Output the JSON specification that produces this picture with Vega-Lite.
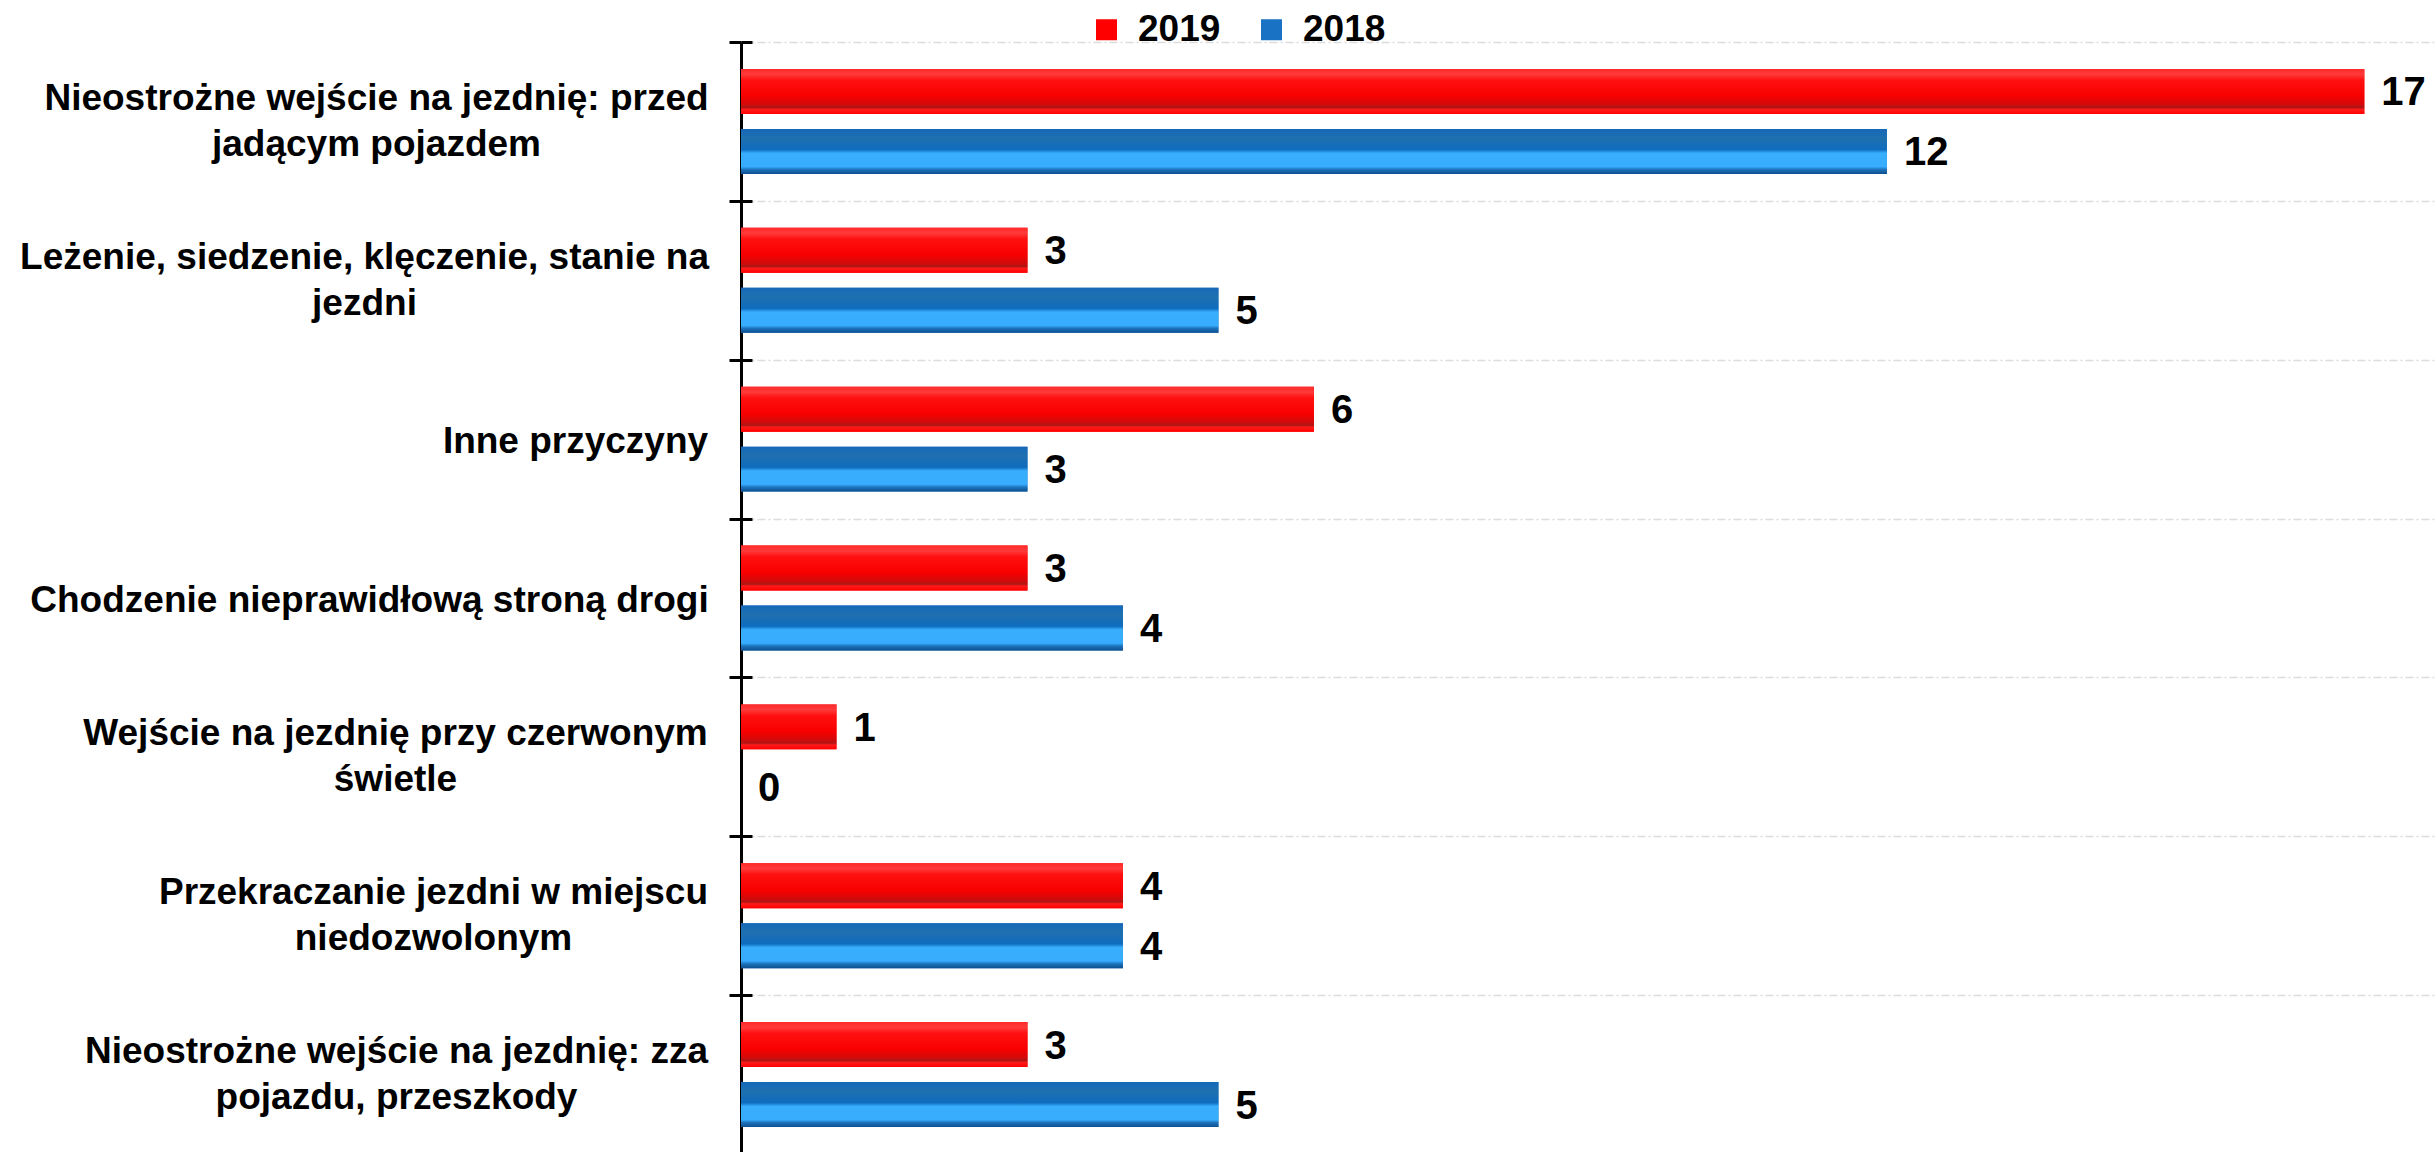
{
  "$schema": "https://vega.github.io/schema/vega-lite/v6.json",
  "autosize": {"type": "none"},
  "padding": {"left": 741, "top": 42, "right": 0, "bottom": 0},
  "width": 1694,
  "height": 1112,
  "background": "white",
  "config": {"view": {"stroke": null}, "font": "Liberation Sans"},
  "data": {
    "values": [
      {"cause": "Nieostrożne wejście na jezdnię: przed|jadącym pojazdem", "year": "2019", "value": 17},
      {"cause": "Nieostrożne wejście na jezdnię: przed|jadącym pojazdem", "year": "2018", "value": 12},
      {"cause": "Leżenie, siedzenie, klęczenie, stanie na|jezdni", "year": "2019", "value": 3},
      {"cause": "Leżenie, siedzenie, klęczenie, stanie na|jezdni", "year": "2018", "value": 5},
      {"cause": "Inne przyczyny", "year": "2019", "value": 6},
      {"cause": "Inne przyczyny", "year": "2018", "value": 3},
      {"cause": "Chodzenie nieprawidłową stroną drogi", "year": "2019", "value": 3},
      {"cause": "Chodzenie nieprawidłową stroną drogi", "year": "2018", "value": 4},
      {"cause": "Wejście na jezdnię przy czerwonym|świetle", "year": "2019", "value": 1},
      {"cause": "Wejście na jezdnię przy czerwonym|świetle", "year": "2018", "value": 0},
      {"cause": "Przekraczanie jezdni w miejscu|niedozwolonym", "year": "2019", "value": 4},
      {"cause": "Przekraczanie jezdni w miejscu|niedozwolonym", "year": "2018", "value": 4},
      {"cause": "Nieostrożne wejście na jezdnię: zza|pojazdu, przeszkody", "year": "2019", "value": 3},
      {"cause": "Nieostrożne wejście na jezdnię: zza|pojazdu, przeszkody", "year": "2018", "value": 5}
    ]
  },
  "encoding": {
    "y": {"field": "cause", "type": "nominal", "sort": null,
          "scale": {"paddingInner": 0, "paddingOuter": 0}},
    "yOffset": {"field": "year", "type": "nominal", "sort": ["2019", "2018"],
                "scale": {"paddingInner": 0.25, "paddingOuter": 0.45}},
    "x": {"field": "value", "type": "quantitative",
          "scale": {"domain": [0, 17.74], "nice": false, "zero": true}, "axis": null}
  },
  "layer": [
    {
      "mark": {"type": "bar"},
      "encoding": {
        "color": {"field": "year", "type": "nominal", "sort": ["2019", "2018"],
                  "scale": {"domain": ["2019", "2018"], "range": ["#ff0000", "#1a72c4"]},
                  "legend": {"orient": "none", "legendX": 347, "legendY": -31, "direction": "horizontal",
                             "title": null, "symbolType": "square", "symbolSize": 441,
                             "symbolStrokeWidth": 0, "labelFontSize": 37, "labelFontWeight": "bold",
                             "labelColor": "black", "labelOffset": 13, "columnPadding": 32,
                             "labelFont": "Liberation Sans"}},
        "y": {"field": "cause", "type": "nominal", "sort": null,
              "axis": {"title": null, "domainColor": "black", "domainWidth": 3,
                       "tickColor": "black", "tickWidth": 3, "tickSize": 12, "tickBand": "extent",
                       "grid": true, "gridColor": "#dcdcdc", "gridDash": [8, 3, 2, 3], "gridWidth": 1.5,
                       "labelExpr": "split(datum.label, '|')",
                       "labelFont": "Liberation Sans", "labelFontSize": 37, "labelFontWeight": "bold",
                       "labelColor": "black", "labelAlign": "center", "labelBaseline": "middle",
                       "labelLineHeight": 46, "labelLimit": 2000,
                       "labelOffset": {"expr": "test(/[|]/, datum.value) ? -23 : 2"},
                       "labelPadding": {"expr": "test(/przed/, datum.value) ? 353 : test(/Leżenie/, datum.value) ? 365 : test(/Inne/, datum.value) ? 154 : test(/Chodzenie/, datum.value) ? 360 : test(/Wejście/, datum.value) ? 334 : test(/Przekraczanie/, datum.value) ? 296 : 333"}}}
      }
    },
    {
      "transform": [{"filter": "datum.year == '2019'"}],
      "mark": {"type": "bar",
               "color": {"gradient": "linear", "x1": 0, "y1": 0, "x2": 0, "y2": 1,
                         "stops": [
                           {"offset": 0, "color": "#ff2a2a"},
                           {"offset": 0.12, "color": "#ff3a3a"},
                           {"offset": 0.25, "color": "#ff1010"},
                           {"offset": 0.6, "color": "#f80000"},
                           {"offset": 0.78, "color": "#d40a0a"},
                           {"offset": 0.86, "color": "#b01515"},
                           {"offset": 0.9, "color": "#ff1a1a"},
                           {"offset": 1, "color": "#ff0000"}]}},
      "encoding": {"y": {"field": "cause", "type": "nominal", "sort": null, "axis": null}}
    },
    {
      "transform": [{"filter": "datum.year == '2018'"}],
      "mark": {"type": "bar",
               "color": {"gradient": "linear", "x1": 0, "y1": 0, "x2": 0, "y2": 1,
                         "stops": [
                           {"offset": 0, "color": "#1668b8"},
                           {"offset": 0.1, "color": "#1a6db5"},
                           {"offset": 0.2, "color": "#1f70ae"},
                           {"offset": 0.46, "color": "#0f6cbf"},
                           {"offset": 0.54, "color": "#38aefc"},
                           {"offset": 0.84, "color": "#38acff"},
                           {"offset": 0.9, "color": "#1d74bd"},
                           {"offset": 1, "color": "#0d4f8f"}]}},
      "encoding": {"y": {"field": "cause", "type": "nominal", "sort": null, "axis": null}}
    },
    {
      "mark": {"type": "text", "align": "left", "baseline": "middle", "dx": 17, "dy": 2,
               "font": "Liberation Sans", "fontSize": 40, "fontWeight": "bold", "color": "black"},
      "encoding": {
        "text": {"field": "value", "type": "quantitative"},
        "y": {"field": "cause", "type": "nominal", "sort": null,
              "axis": {"orient": "right", "offset": -1694, "title": null, "labels": false,
                       "domain": false, "grid": false, "tickBand": "extent",
                       "tickColor": "black", "tickWidth": 3, "tickSize": 11}}
      }
    }
  ],
  "resolve": {"axis": {"y": "independent"}}
}
